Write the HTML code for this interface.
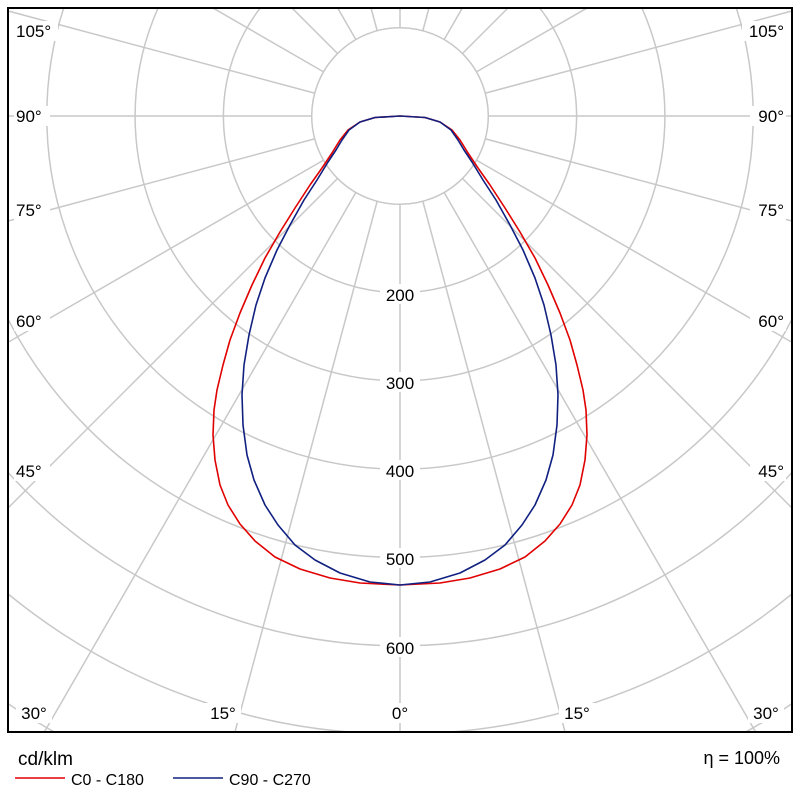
<!DOCTYPE html>
<html><head><meta charset="utf-8"><style>
html,body{margin:0;background:#fff;width:800px;height:800px;overflow:hidden;}
svg{display:block;font-family:"Liberation Sans","DejaVu Sans",sans-serif;}
</style></head><body>
<svg width="800" height="800" viewBox="0 0 800 800" xmlns="http://www.w3.org/2000/svg">
<defs><clipPath id="c"><rect x="8" y="8" width="784" height="724"/></clipPath></defs>
<rect width="800" height="800" fill="#fff"/>
<g clip-path="url(#c)" stroke="#c8c8c8" stroke-width="1.5" fill="none">
<g transform="translate(400,116)">
<line x1="0" y1="88" x2="0" y2="1200" transform="rotate(0)"/><line x1="0" y1="88" x2="0" y2="1200" transform="rotate(15)"/><line x1="0" y1="88" x2="0" y2="1200" transform="rotate(30)"/><line x1="0" y1="88" x2="0" y2="1200" transform="rotate(45)"/><line x1="0" y1="88" x2="0" y2="1200" transform="rotate(60)"/><line x1="0" y1="88" x2="0" y2="1200" transform="rotate(75)"/><line x1="0" y1="88" x2="0" y2="1200" transform="rotate(90)"/><line x1="0" y1="88" x2="0" y2="1200" transform="rotate(105)"/><line x1="0" y1="88" x2="0" y2="1200" transform="rotate(120)"/><line x1="0" y1="88" x2="0" y2="1200" transform="rotate(135)"/><line x1="0" y1="88" x2="0" y2="1200" transform="rotate(150)"/><line x1="0" y1="88" x2="0" y2="1200" transform="rotate(165)"/><line x1="0" y1="88" x2="0" y2="1200" transform="rotate(180)"/><line x1="0" y1="88" x2="0" y2="1200" transform="rotate(195)"/><line x1="0" y1="88" x2="0" y2="1200" transform="rotate(210)"/><line x1="0" y1="88" x2="0" y2="1200" transform="rotate(225)"/><line x1="0" y1="88" x2="0" y2="1200" transform="rotate(240)"/><line x1="0" y1="88" x2="0" y2="1200" transform="rotate(255)"/><line x1="0" y1="88" x2="0" y2="1200" transform="rotate(270)"/><line x1="0" y1="88" x2="0" y2="1200" transform="rotate(285)"/><line x1="0" y1="88" x2="0" y2="1200" transform="rotate(300)"/><line x1="0" y1="88" x2="0" y2="1200" transform="rotate(315)"/><line x1="0" y1="88" x2="0" y2="1200" transform="rotate(330)"/><line x1="0" y1="88" x2="0" y2="1200" transform="rotate(345)"/>
<circle r="88.3"/><circle r="176.6"/><circle r="264.9"/><circle r="353.2"/><circle r="441.5"/><circle r="529.8"/><circle r="618.1"/><circle r="706.4"/><circle r="794.7"/><circle r="883"/>
</g></g>
<g font-size="17" fill="#000" text-anchor="middle">
<rect x="380" y="284" width="40" height="20" fill="#fff"/><text x="400" y="301">200</text>
<rect x="380" y="372" width="40" height="20" fill="#fff"/><text x="400" y="389">300</text>
<rect x="380" y="460" width="40" height="20" fill="#fff"/><text x="400" y="477">400</text>
<rect x="380" y="548" width="40" height="20" fill="#fff"/><text x="400" y="565">500</text>
<rect x="380" y="637" width="40" height="20" fill="#fff"/><text x="400" y="654">600</text>
<rect x="384" y="703" width="32" height="20" fill="#fff"/><text x="400" y="719">0°</text>
<rect x="205" y="703" width="36" height="20" fill="#fff"/><text x="223" y="719">15°</text>
<rect x="559" y="703" width="36" height="20" fill="#fff"/><text x="577" y="719">15°</text>
<rect x="16" y="703" width="36" height="20" fill="#fff"/><text x="34" y="719">30°</text>
<rect x="748" y="703" width="36" height="20" fill="#fff"/><text x="766" y="719">30°</text>
</g>
<g font-size="17" fill="#000">
<g text-anchor="start">
<rect x="14" y="461" width="36" height="20" fill="#fff"/><text x="16" y="477">45°</text>
<rect x="14" y="311" width="36" height="20" fill="#fff"/><text x="16" y="327">60°</text>
<rect x="14" y="200" width="36" height="20" fill="#fff"/><text x="16" y="216">75°</text>
<rect x="14" y="106" width="36" height="20" fill="#fff"/><text x="16" y="122">90°</text>
<rect x="14" y="21" width="44" height="20" fill="#fff"/><text x="16" y="37">105°</text>
</g>
<g text-anchor="end">
<rect x="750" y="461" width="36" height="20" fill="#fff"/><text x="784" y="477">45°</text>
<rect x="750" y="311" width="36" height="20" fill="#fff"/><text x="784" y="327">60°</text>
<rect x="750" y="200" width="36" height="20" fill="#fff"/><text x="784" y="216">75°</text>
<rect x="750" y="106" width="36" height="20" fill="#fff"/><text x="784" y="122">90°</text>
<rect x="742" y="21" width="44" height="20" fill="#fff"/><text x="784" y="37">105°</text>
</g></g>
<polyline fill="none" stroke="#e00000" stroke-width="1.6" stroke-linejoin="round" points="400,116 375,117.5 360,122 348,130 340,140 332,153 322,168 310,185 295,208 280,232 265,258 252,285 240,313 230,340 223,365 217,390 214,410 213,435 215,460 220,485 228,505 240,524 255,541 275,557 300,569 330,578 360,583 400,585 440,583 470,578 500,569 525,557 545,541 560,524 572,505 580,485 585,460 587,435 586,410 583,390 577,365 570,340 560,313 548,285 535,258 520,232 505,208 490,185 478,168 468,153 460,140 452,130 440,122 425,117.5 400,116"/>
<polyline fill="none" stroke="#102080" stroke-width="1.6" stroke-linejoin="round" points="400,116 375,117.5 360,122 349,130 342,140 336,150 328,162 317,180 304,200 290,225 277,250 265,278 256,305 249,335 244,365 242,395 243,425 247,455 254,480 265,505 278,525 295,545 315,560 340,573 370,582 400,585 430,582 460,573 485,560 505,545 522,525 535,505 546,480 553,455 557,425 558,395 556,365 551,335 544,305 535,278 523,250 510,225 496,200 483,180 472,162 464,150 458,140 451,130 440,122 425,117.5 400,116"/>
<rect x="8" y="8" width="784" height="724" fill="none" stroke="#000" stroke-width="2"/>
<text x="18" y="765" font-size="19" fill="#000">cd/klm</text>
<text x="780" y="764" font-size="18" fill="#000" text-anchor="end">η = 100%</text>
<line x1="15" y1="778" x2="65" y2="778" stroke="#e00000" stroke-width="1.5"/>
<text x="71" y="785" font-size="16" fill="#000">C0 - C180</text>
<line x1="173" y1="778" x2="223" y2="778" stroke="#102080" stroke-width="1.5"/>
<text x="229" y="785" font-size="16" fill="#000">C90 - C270</text>
</svg>
</body></html>
